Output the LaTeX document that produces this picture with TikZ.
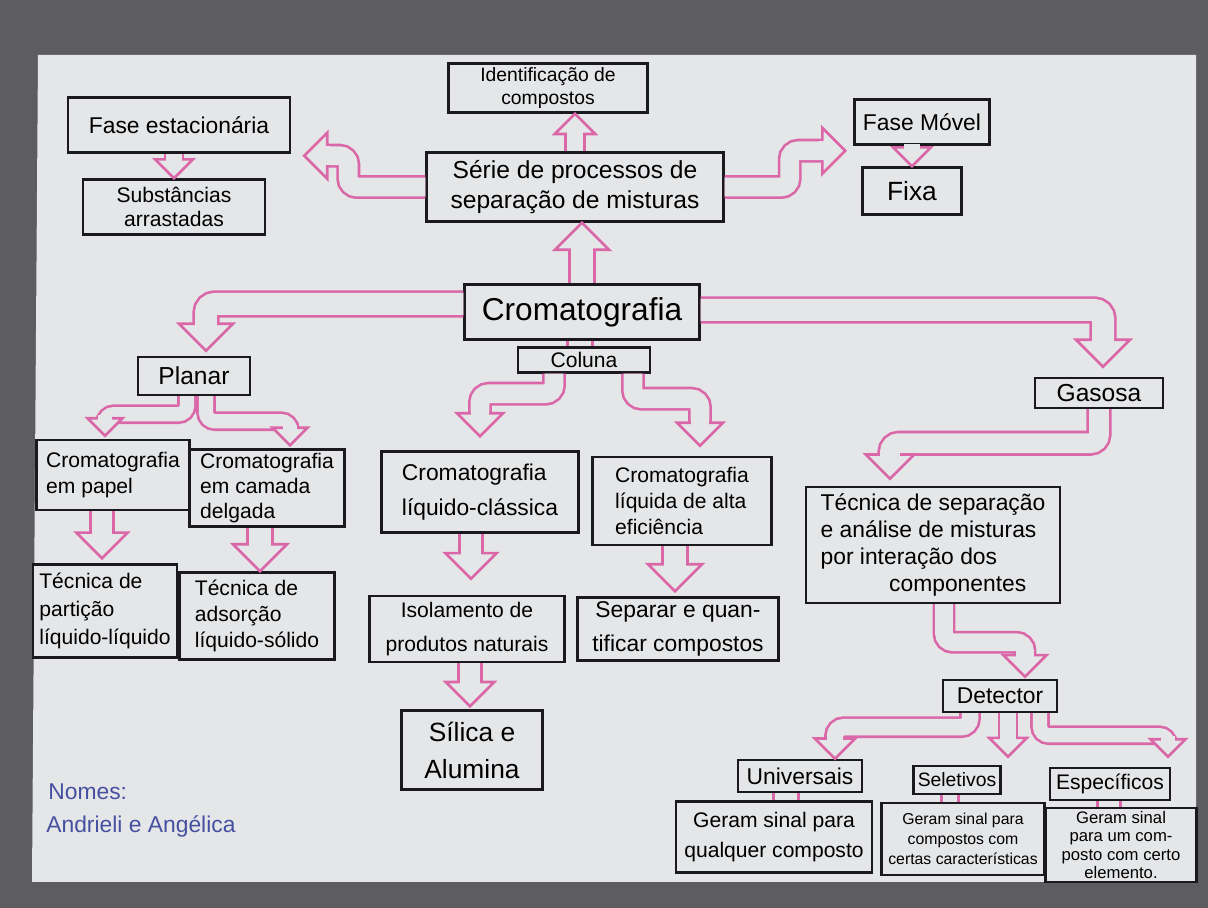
\documentclass[tikz,border=0pt]{standalone}
\usepackage{fontspec}
\setmainfont{Liberation Sans}
\usetikzlibrary{calc}
\definecolor{mappink}{RGB}{218,104,168}
\definecolor{mappaper}{RGB}{229,230,232}
\definecolor{mapink}{RGB}{25,25,30}
\definecolor{mapback}{RGB}{92,92,97}
\definecolor{mapblue}{RGB}{70,80,160}
\newcommand{\fs}[2]{\fontsize{#1}{#2}\selectfont}
\tikzstyle{box} = [rectangle, draw=mapink, line width=1.4pt, fill=mappaper, align=center, inner sep=2pt]
\tikzstyle{names} = [text=mapblue, font=\fs{13}{15}, inner sep=0pt]
\tikzstyle{tiphead} = [draw=mappink, line width=1.5pt, fill=mappaper]
\tikzset{
  wh/.style 2 args={minimum width=#1*0.02cm, minimum height=#2*0.02cm},
  shaft/.style={draw=mappink, line width=1.5pt, double=mappaper, double distance=#1*0.44cm, rounded corners=5pt},
  shaft/.default=1
}
% hollow block arrow: [size]{path up to the head}{tip}{direction}
\newcommand{\hollowarrow}[4][1]{%
  \coordinate (arrowtip) at #3;
  \draw[shaft=#1] #2 ($(arrowtip)+(#4+180:#1*0.54cm)$);
  \begin{scope}[shift={(arrowtip)}, rotate=#4]
    \draw[tiphead] (-27*#1,-27*#1) -- (0,0) -- (-27*#1,27*#1) -- cycle;
    \fill[mappaper] (-27*#1-3,-11*#1) rectangle (-27*#1+3,11*#1);
  \end{scope}
}

\begin{document}
\begin{tikzpicture}[x=0.02cm, y=-0.02cm]
% sheet
\fill[mapback] (0,0) rectangle (1208,908);
\fill[mappaper] (38,55) -- (1196,55) -- (1196,882) -- (32,882) -- cycle;
\useasboundingbox (0,0) rectangle (1208,908);

% top row
\node (ident) [box, wh={199}{49}, font=\fs{11}{13}] at (548,88) {Identificação de\\compostos};
\node (serie) [box, wh={297}{69}, font=\fs{14}{17}] at (575,187) {Série de processos de\\separação de misturas};
\node (faseest) [box, wh={222}{55}, font=\fs{13}{15}] at (179,125) {Fase estacionária};
\node (subst) [box, wh={182}{55}, font=\fs{12}{14}] at (174,207) {Substâncias\\arrastadas};
\node (fasemovel) [box, wh={135}{45}, font=\fs{13}{15}] at (922,122) {Fase Móvel};
\node (fixa) [box, wh={99}{47}, font=\fs{15}{17}] at (912,191) {Fixa};

% main node and its three types
\node (cromato) [box, wh={235}{55}, font=\fs{18}{20}] at (582,312) {Cromatografia};
\node (coluna) [box, wh={132}{25}, inner sep=1pt, font=\fs{12}{13}] at (584,360) {Coluna};
\node (planar) [box, wh={112}{38}, font=\fs{14}{16}] at (194,376) {Planar};
\node (gasosa) [box, wh={128}{30}, inner sep=1pt, font=\fs{14}{15}] at (1099,393) {Gasosa};

% planar
\node (papel) [box, wh={153}{70}, font=\fs{12}{15}, align=left] at (113,475) {Cromatografia\\em papel};
\node (delgada) [box, wh={155}{77}, font=\fs{12}{14}, align=left] at (267,488) {Cromatografia\\em camada\\delgada};
\node (particao) [box, wh={144}{93}, font=\fs{12}{16}, align=left] at (105,611) {Técnica de\\partição\\líquido-líquido};
\node (adsorcao) [box, wh={155}{87}, font=\fs{12}{15}, align=left] at (257,616) {Técnica de\\adsorção\\líquido-sólido};

% coluna
\node (classica) [box, wh={197}{81}, font=\fs{13}{20}, align=left] at (480,492) {Cromatografia\\líquido-clássica};
\node (clae) [box, wh={179}{88}, font=\fs{12}{15}, align=left] at (682,501) {Cromatografia\\líquida de alta\\eficiência};
\node (isolamento) [box, wh={195}{66}, font=\fs{12}{19}] at (467,629) {Isolamento de\\produtos naturais};
\node (separar) [box, wh={201}{63}, font=\fs{13}{19}] at (678,629) {Separar e quan-\\tificar compostos};
\node (silica) [box, wh={141}{79}, font=\fs{15}{21}] at (472,750) {Sílica e\\Alumina};

% gasosa
\node (tecsep) [box, wh={254}{116}, font=\fs{13}{15.5}, align=left] at (933,545) {Técnica de separação\\e análise de misturas\\por interação dos\\\hspace*{3em}componentes};
\node (detector) [box, wh={114}{32}, inner sep=1pt, font=\fs{13}{15}] at (1000,696) {Detector};
\node (universais) [box, wh={124}{32}, inner sep=1pt, font=\fs{13}{15}] at (800,776) {Universais};
\node (seletivos) [box, wh={87}{28}, inner sep=1pt, font=\fs{11}{13}] at (957,780) {Seletivos};
\node (especificos) [box, wh={120}{32}, inner sep=1pt, font=\fs{12}{14}] at (1110,784) {Específicos};
\node (qualquer) [box, wh={196}{71}, font=\fs{12}{17}] at (774,837) {Geram sinal para\\qualquer composto};
\node (certas) [box, wh={163}{72}, inner sep=1pt, font=\fs{9}{11.5}] at (963,839) {Geram sinal para\\compostos com\\certas características};
\node (elemento) [box, wh={151}{74}, inner sep=1pt, font=\fs{9.5}{10.5}] at (1121,845) {Geram sinal\\para um com-\\posto com certo\\elemento.};

\node (nomes) [names, anchor=west] at (48,792) {Nomes:};
\node (autoras) [names, anchor=west] at (46,826) {Andrieli e Angélica};

% arrows, top
\hollowarrow{(cromato.north) --}{(cromato.north |- serie.south)}{90}
\hollowarrow[0.75]{(serie.north) --}{(serie.north |- ident.south)}{90}
\hollowarrow[0.85]{(serie.west) -- ++(-77,0) |-}{($(faseest.south east)+(13,2)$)}{180}
\hollowarrow[0.85]{(serie.east) -- ++(65,0) |-}{($(fasemovel.south west)+(-8,5)$)}{0}
\hollowarrow[0.7]{(fasemovel.south -| fixa.north) --}{(fixa.north)}{-90}
\hollowarrow[0.7]{(faseest.south -| subst.north) --}{(subst.north)}{-90}

% arrows, second level
\draw[shaft] ($(cromato.south)+(-2,0)$) -- ($(coluna.north)+(-4,0)$);
\hollowarrow{($(cromato.west)+(0,-8)$) -|}{($(planar.north)+(12,-5)$)}{-90}
\hollowarrow{($(cromato.east)+(0,-2)$) -|}{($(gasosa.north)+(4,-10)$)}{-90}

% planar
\hollowarrow[0.65]{($(planar.south)+(-7,0)$) -- ++(0,18) -|}{($(papel.north)+(-8,-3)$)}{-90}
\hollowarrow[0.65]{($(planar.south)+(12,0)$) -- ++(0,25) -|}{($(delgada.north)+(23,-3)$)}{-90}
\hollowarrow[0.95]{($(papel.south)+(-11,0)$) --}{($(particao.north)+(-3,-5)$)}{-90}
\hollowarrow{($(delgada.south)+(-7,0)$) --}{($(adsorcao.north)+(3,0)$)}{-90}

% coluna
\hollowarrow[0.85]{($(coluna.south)+(-30,0)$) -- ++(0,20) -|}{($(classica.north)+(0,-14)$)}{-90}
\hollowarrow[0.85]{($(coluna.south)+(49,0)$) -- ++(0,25) -|}{($(clae.north)+(18,-10)$)}{-90}
\hollowarrow[0.95]{($(classica.south)+(-9,0)$) --}{($(isolamento.north)+(4,-16)$)}{-90}
\hollowarrow{($(clae.south)+(-7,0)$) --}{($(separar.north)+(-3,-5)$)}{-90}
\hollowarrow[0.9]{($(isolamento.south)+(3,0)$) --}{($(silica.north)+(-2,-3)$)}{-90}

% gasosa
\hollowarrow[0.9]{(gasosa.south) -- ++(0,34) -|}{($(tecsep.north)+(-43,-7)$)}{-90}
\hollowarrow[0.8]{($(tecsep.south)+(11,0)$) -- ++(0,38) -|}{($(detector.north)+(25,-2)$)}{-90}
\hollowarrow[0.75]{($(detector.south)+(-30,0)$) -- ++(0,14) -|}{($(universais.north)+(35,0)$)}{-90}
\hollowarrow[0.7]{($(detector.south)+(8,0)$) --}{($(seletivos.north)+(51,-8)$)}{-90}
\hollowarrow[0.65]{($(detector.south)+(40,0)$) -- ++(0,22) -|}{($(especificos.north)+(58,-10)$)}{-90}
\draw[shaft] ($(universais.south)+(-14,0)$) -- ($(qualquer.north)+(12,0)$);
\draw[shaft=0.65] ($(seletivos.south)+(-7,0)$) -- ($(certas.north)+(-13,0)$);
\draw[shaft=0.9] ($(especificos.south)+(-1,0)$) -- ($(elemento.north)+(-12,0)$);
\end{tikzpicture}
\end{document}
